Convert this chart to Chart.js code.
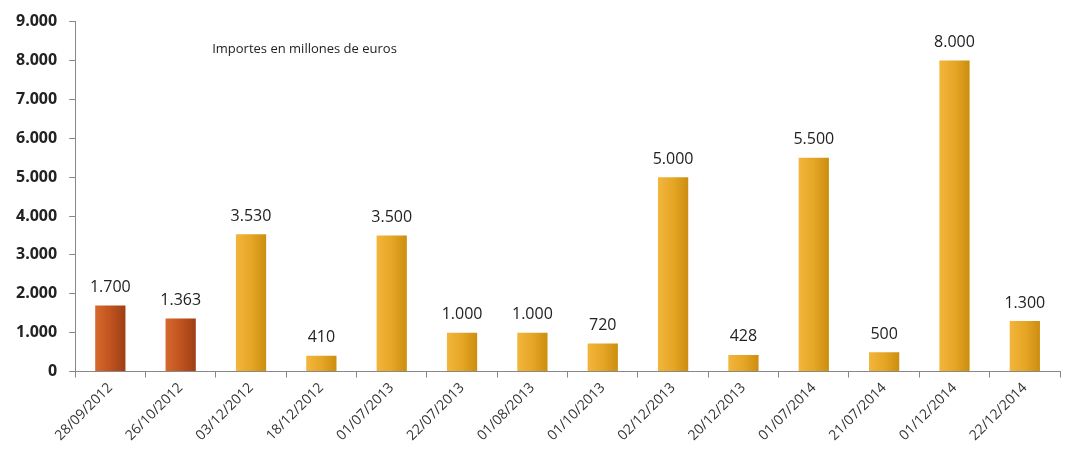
<!DOCTYPE html>
<html>
<head>
<meta charset="utf-8">
<script src="https://cdn.jsdelivr.net/npm/chart.js@4.4.0/dist/chart.umd.min.js"></script>
<style>
  html, body { margin: 0; padding: 0; background: #fff; }
  #wrap { width: 1065px; height: 450px; position: relative; }
</style>
</head>
<body>
<div id="wrap"><canvas id="importesChart"></canvas></div>
<script>
// Datos del gráfico
const fechas = ['28/09/2012', '26/10/2012', '03/12/2012', '18/12/2012', '01/07/2013', '22/07/2013', '01/08/2013',
    '01/10/2013', '02/12/2013', '20/12/2013', '01/07/2014', '21/07/2014', '01/12/2014', '22/12/2014'];
const importes = [1700, 1363, 3530, 410, 3500, 1000, 1000, 720, 5000, 428, 5500, 500, 8000, 1300];
// las dos primeras barras van en otro color
const grupo = ['rojo', 'rojo', 'oro', 'oro', 'oro', 'oro', 'oro', 'oro', 'oro', 'oro', 'oro', 'oro', 'oro', 'oro'];
const subtitulo = 'Importes en millones de euros';

const fuente = "'Open Sans', 'DejaVu Sans', sans-serif";
const anchoBarra = 0.43;

// formato con punto de miles: 9.000
function formatoMiles(v) {
    return String(v).replace(/\B(?=(\d{3})+(?!\d))/g, '.');
}

// degradado horizontal para cada barra (a partir de la escala x)
function colorBarra(context) {
    const chart = context.chart;
    const tipo = grupo[context.dataIndex];
    const plano = tipo === 'rojo' ? '#b8501f' : '#e3a326';
    const xs = chart.scales && chart.scales.x;
    if (!xs || !chart.chartArea) {
        return plano;
    }
    const cx = xs.getPixelForValue(context.dataIndex);
    const half = (xs.width / fechas.length) * anchoBarra / 2;
    if (!Number.isFinite(cx) || !Number.isFinite(half)) {
        return plano;
    }
    const g = chart.ctx.createLinearGradient(cx - half, 0, cx + half, 0);
    if (tipo === 'rojo') {
        g.addColorStop(0, '#d66a2c');
        g.addColorStop(0.5, '#c0531f');
        g.addColorStop(1, '#9e3f16');
    } else {
        g.addColorStop(0, '#f2b63c');
        g.addColorStop(0.5, '#e6a626');
        g.addColorStop(1, '#cc8e10');
    }
    return g;
}

// etiquetas de valor encima de cada barra + subtítulo
const etiquetasPlugin = {
    id: 'etiquetas',
    afterDatasetsDraw(chart) {
        const ctx = chart.ctx;
        const meta = chart.getDatasetMeta(0);
        ctx.save();
        ctx.fillStyle = '#222';
        ctx.font = '16px ' + fuente;
        ctx.textAlign = 'center';
        ctx.textBaseline = 'bottom';
        meta.data.forEach((bar, i) => {
            ctx.fillText(formatoMiles(importes[i]), bar.x, bar.y - 10);
        });
        const area = chart.chartArea;
        ctx.font = '13px ' + fuente;
        ctx.textAlign = 'left';
        ctx.textBaseline = 'middle';
        ctx.fillText(subtitulo, area.left + 137, area.top + 28);
        ctx.restore();
    }
};

const ctx = document.getElementById('importesChart').getContext('2d');
new Chart(ctx, {
    type: 'bar',
    data: {
        labels: fechas,
        datasets: [{
            data: importes,
            backgroundColor: colorBarra,
            borderWidth: 0,
            barPercentage: anchoBarra,
            categoryPercentage: 1.0
        }]
    },
    options: {
        responsive: true,
        maintainAspectRatio: false,
        animation: false,
        layout: { padding: { top: 8, right: 5, left: 4, bottom: 4 } },
        plugins: {
            legend: { display: false },
            tooltip: { enabled: false }
        },
        scales: {
            x: {
                grid: {
                    drawOnChartArea: false,
                    drawTicks: true,
                    tickLength: 6,
                    color: '#888',
                    offset: true
                },
                border: { display: true, color: '#888', width: 1 },
                ticks: {
                    maxRotation: 45,
                    minRotation: 45,
                    color: '#333',
                    font: { family: fuente, size: 14 },
                    padding: 2
                }
            },
            y: {
                min: 0,
                max: 9000,
                grid: {
                    drawOnChartArea: false,
                    drawTicks: true,
                    tickLength: 6,
                    color: '#888'
                },
                border: { display: true, color: '#888', width: 1 },
                ticks: {
                    stepSize: 1000,
                    color: '#222',
                    font: { family: fuente, size: 16, weight: 'bold' },
                    padding: 12,
                    callback: v => formatoMiles(v)
                }
            }
        }
    },
    plugins: [etiquetasPlugin]
});
</script>
</body>
</html>
